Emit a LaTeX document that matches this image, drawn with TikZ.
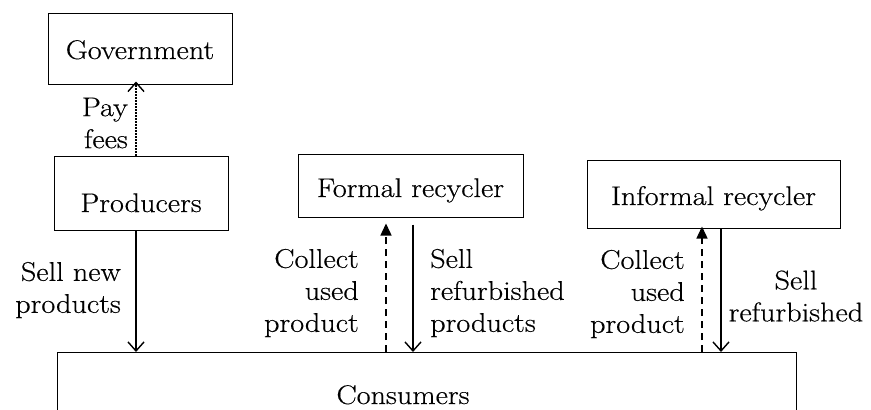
\documentclass[tikz,border=0pt]{standalone}
\usepackage{fontspec}
\setmainfont{Latin Modern Roman}[FakeStretch=1.12, FakeBold=0.4]
\usetikzlibrary{arrows.meta}
\begin{document}
\begin{tikzpicture}[x=1pt,y=-1pt,
  box/.style 2 args={draw, line width=1pt, inner sep=0pt, minimum width=#1, minimum height=#2},
  txt/.style={font=\fontsize{27}{32}\selectfont, inner sep=0pt},
  solidarrow/.style={line width=1.4pt, -{Straight Barb[length=9pt,width=16pt,line width=1.4pt]}},
  dasharrow/.style={line width=1.4pt, dash pattern=on 7pt off 5pt, -{Triangle[length=12pt,width=11pt]}},
  dotarrow/.style={line width=1.4pt, dash pattern=on 1.5pt off 1.5pt, -{Straight Barb[length=9pt,width=16pt,line width=1.4pt]}}]
\useasboundingbox (0,0) rectangle (871,410);
\clip (0,0) rectangle (871,410);
% boxes
\node[box={184pt}{71pt}] (gov) at (140,48.5) {};
\node[txt, anchor=base] (govt) at (140,59) {Government};
\node[box={174pt}{74pt}] (prod) at (141,193) {};
\node[txt, anchor=base] (prodt) at (141,212) {Producers};
\node[box={225pt}{63pt}] (form) at (410.5,185.5) {};
\node[txt, anchor=base] (formt) at (410.5,197) {Formal recycler};
\node[box={253pt}{68pt}] (inf) at (713.5,194) {};
\node[txt, anchor=base] (inft) at (713.5,205) {Informal recycler};
\node[box={739pt}{120pt}, anchor=north west] (cons) at (57,352) {};
\node[txt, anchor=base] (const) at (403,404) {Consumers};
% arrows
\draw[dotarrow] ([xshift=-5pt]prod.north) -- ([xshift=-5pt,yshift=3pt]prod.north |- gov.south);
\draw[solidarrow] ([xshift=-5pt]prod.south) -- ([xshift=-5pt]prod.south |- cons.north);
\draw[dasharrow] ([xshift=-24.5pt]form.south |- cons.north) -- ([xshift=-24.5pt,yshift=-6pt]form.south);
\draw[solidarrow] ([xshift=2.5pt,yshift=-7pt]form.south) -- ([xshift=2.5pt]form.south |- cons.north);
\draw[dasharrow] ([xshift=-11.5pt]inf.south |- cons.north) -- ([xshift=-11.5pt,yshift=2pt]inf.south);
\draw[solidarrow] ([xshift=7.5pt]inf.south) -- ([xshift=7.5pt]inf.south |- cons.north);
% labels
\node[txt, anchor=east, align=right] (payl) at (128,123) {Pay\\fees};
\node[txt, anchor=east, align=right] (selll) at (121,290) {Sell new\\products};
\node[txt, anchor=east, align=right] (coll1) at (359,293) {Collect\\used\\product};
\node[txt, anchor=west, align=left] (sell1) at (430,293) {Sell\\refurbished\\products};
\node[txt, anchor=east, align=right] (coll2) at (685,294) {Collect\\used\\product};
\node[txt, align=center] (sell2) at (796,296) {Sell\\refurbished};
\end{tikzpicture}
\end{document}
